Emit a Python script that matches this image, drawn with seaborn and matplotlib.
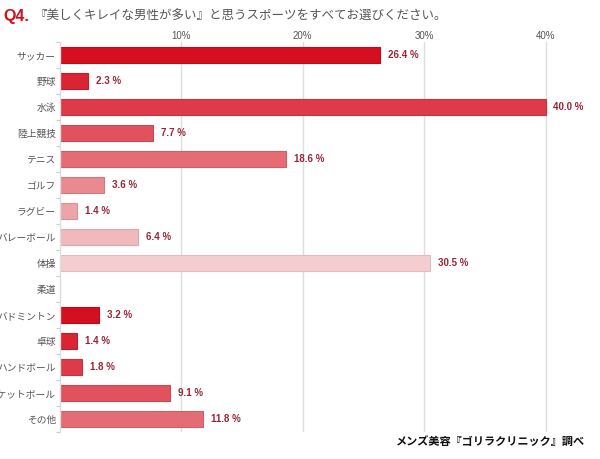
import matplotlib
matplotlib.use("Agg")
import matplotlib.pyplot as plt
import seaborn as sns
import pandas as pd
import numpy as np

categories = ["サッカー", "野球", "水泳", "陸上競技", "テニス", "ゴルフ", "ラグビー", "バレーボール",
              "体操", "柔道", "バドミントン", "卓球", "ハンドボール", "バスケットボール", "その他"]
values = [26.4, 2.3, 40.0, 7.7, 18.6, 3.6, 1.4, 6.4, 30.5, 0.0, 3.2, 1.4, 1.8, 9.1, 11.8]
value_labels = ["26.4 %", "2.3 %", "40.0 %", "7.7 %", "18.6 %", "3.6 %", "1.4 %", "6.4 %",
                "30.5 %", "", "3.2 %", "1.4 %", "1.8 %", "9.1 %", "11.8 %"]
colors = ["#D50F1F", "#DA2433", "#DE3B48", "#E2525D", "#E56C74", "#E98A90", "#EDA4A9", "#F1B9BD",
          "#F5CDD0", "#F8DDE0", "#D50F1F", "#DA2433", "#DE3B48", "#E2525D", "#E56C74"]
edge_colors = ["#C00A18", "#C41C2A", "#C8323E", "#CC4751", "#CF5F67", "#D37A80", "#D79398", "#DBA8AC",
               "#E0BCBF", "#E5CCCF", "#C00A18", "#C41C2A", "#C8323E", "#CC4751", "#CF5F67"]
xticks = [10, 20, 30, 40]
xtick_labels = ["10%", "20%", "30%", "40%"]

sns.set_theme(style="white")
plt.rcParams['font.family'] = ['Noto Sans CJK JP', 'DejaVu Sans']

fig = plt.figure(figsize=(6, 4.59), dpi=100)
ax = fig.add_axes([0.1, 0.0588, 0.88, 0.8497])

df = pd.DataFrame({"cat": categories, "val": values})
sns.barplot(data=df, x="val", y="cat", hue="cat", palette=colors, legend=False,
            orient="h", width=0.62, ax=ax, saturation=1)
for patch, ec in zip(ax.patches, edge_colors):
    patch.set_edgecolor(ec)
    patch.set_linewidth(0.8)

ax.set_xlim(0, 43.5)
ax.set_ylim(len(categories) - 0.5, -0.5)
ax.xaxis.tick_top()
ax.set_xticks(xticks)
ax.set_xticklabels(xtick_labels, fontsize=7, color="#555555", family=["Liberation Sans"])
ax.tick_params(axis="x", length=0, pad=1)
for x in xticks:
    ax.axvline(x, color="#DDDDDD", lw=1, zorder=0)
ax.set_xlabel("")
ax.set_ylabel("")
ax.tick_params(axis="y", length=0, labelsize=7, labelcolor="#555555", pad=3)
ax.set_yticks(np.arange(len(categories) + 1) - 0.5, minor=True)
ax.tick_params(axis="y", which="minor", length=3, color="#CCCCCC", width=0.8, left=True)
for s in ["top", "right", "bottom"]:
    ax.spines[s].set_visible(False)
ax.spines["left"].set_color("#DDDDDD")
ax.spines["left"].set_linewidth(1)

for i, (v, lab) in enumerate(zip(values, value_labels)):
    if lab:
        ax.text(v + 0.65, i, lab, va="center", ha="left", fontsize=7, color="#9B2335",
                fontweight="bold", family=["Liberation Sans"])

fig.text(0.005, 0.965, "Q4.", color="#D0101C", fontsize=11.5, fontweight="bold", va="center", ha="left",
         family=["Liberation Sans"])
fig.text(0.058, 0.965, "『美しくキレイな男性が多い』と思うスポーツをすべてお選びください。",
         color="#555555", fontsize=9, va="center", ha="left")
fig.text(0.975, 0.036, "メンズ美容『ゴリラクリニック』調べ", color="#111111", fontsize=8,
         fontweight="bold", va="center", ha="right")

fig.savefig("out.png", dpi=100)
